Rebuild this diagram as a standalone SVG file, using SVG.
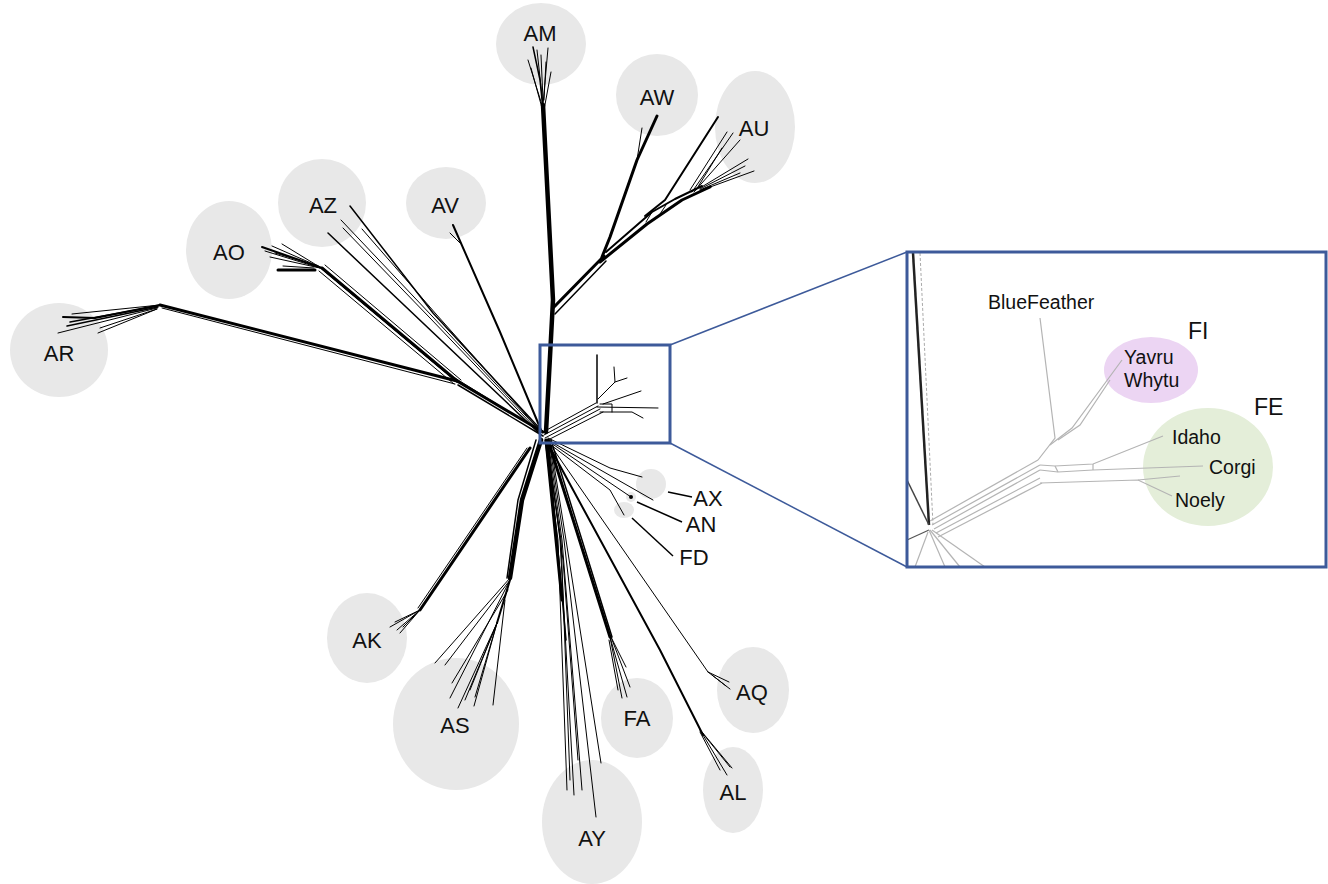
<svg xmlns="http://www.w3.org/2000/svg" width="1328" height="884" viewBox="0 0 1328 884">
<style>
  .grp { fill: #e8e8e8; }
  .lbl { font-family: "Liberation Sans", Arial, sans-serif; font-size: 22px; fill: #111; text-anchor: middle; }
  .ilbl { font-family: "Liberation Sans", Arial, sans-serif; font-size: 19.5px; fill: #111; }
  .glbl { font-family: "Liberation Sans", Arial, sans-serif; font-size: 23px; fill: #111; }
  .br { fill: none; stroke: #000; stroke-linejoin: round; stroke-linecap: round; }
  .w1 { stroke-width: 1; }
  .w15 { stroke-width: 1.5; }
  .w2 { stroke-width: 2; }
  .w3 { stroke-width: 3; }
  .w4 { stroke-width: 4.5; }
  .lt { fill: none; stroke: #b4b4b4; stroke-width: 1.2; }
  .frame { fill: none; stroke: #3d5a9a; stroke-width: 3; }
  .lead { stroke: #3d5a9a; stroke-width: 1.5; }
  .tick { stroke: #000; stroke-width: 1.5; }
</style>

<rect width="1328" height="884" fill="#fff"/>

<!-- group shading -->
<g id="clusters">
  <ellipse id="AM-bg" class="grp" cx="541" cy="44" rx="45" ry="41"/>
  <ellipse id="AW-bg" class="grp" cx="657" cy="95" rx="41" ry="41"/>
  <ellipse id="AU-bg" class="grp" cx="755" cy="127" rx="40" ry="56"/>
  <ellipse id="AZ-bg" class="grp" cx="322" cy="203" rx="44" ry="44"/>
  <ellipse id="AV-bg" class="grp" cx="446" cy="203" rx="40" ry="36"/>
  <ellipse id="AO-bg" class="grp" cx="229" cy="250" rx="43" ry="49"/>
  <ellipse id="AR-bg" class="grp" cx="59" cy="350" rx="49" ry="47"/>
  <ellipse id="AK-bg" class="grp" cx="367" cy="638" rx="40" ry="45"/>
  <ellipse id="AS-bg" class="grp" cx="456" cy="724" rx="63" ry="66"/>
  <ellipse id="AY-bg" class="grp" cx="592" cy="822" rx="50" ry="62"/>
  <ellipse id="FA-bg" class="grp" cx="637" cy="718" rx="36" ry="40"/>
  <ellipse id="AQ-bg" class="grp" cx="753" cy="690" rx="36" ry="43"/>
  <ellipse id="AL-bg" class="grp" cx="733" cy="790" rx="30" ry="43"/>
  <ellipse id="AX-bg" class="grp" cx="651" cy="484" rx="15" ry="15"/>
  <ellipse id="AN-bg" class="grp" cx="631" cy="497" rx="5" ry="5"/>
  <ellipse id="FD-bg" class="grp" cx="624" cy="510" rx="10" ry="8"/>
</g>

<!-- network edges -->
<g id="connectors">
  <!-- AM -->
  <polyline class="br w4" points="546,432 553,300 543,105"/>
  <polyline class="br w15" points="543,110 540,80 533,47"/>
  <polyline class="br w1" points="543,105 537,50"/>
  <polyline class="br w1" points="543,105 548,48"/>
  <polyline class="br w1" points="544,110 551,72"/>
  <polyline class="br w1" points="542,105 528,60"/>
  <polyline class="br w1" points="542,108 531,68"/>
  <polyline class="br w1" points="543,100 541,55"/>
  <polyline class="br w1" points="544,100 546,62"/>

  <!-- AW / AU -->
  <polyline class="br w3" points="553,308 604,256"/>
  <polyline class="br w15" points="555,314 606,261"/>
  <polyline class="br w3" points="602,257 610,237 637,160 657,116"/>
  <polyline class="br w1" points="637,160 642,128"/>
  <polyline class="br w3" points="600,262 647,224 682,200 710,187"/>
  <polyline class="br w2" points="606,252 652,212 675,199 702,186"/>
  <polyline class="br w2" points="645,216 665,200 718,117"/>
  <polyline class="br w1" points="652,212 646,222"/>
  <polyline class="br w1" points="666,205 660,214"/>
  <polyline class="br w1" points="690,190 727,132"/>
  <polyline class="br w1" points="692,192 733,133"/>
  <polyline class="br w1" points="694,192 740,140"/>
  <polyline class="br w1" points="696,190 722,148"/>
  <polyline class="br w1" points="700,188 748,159"/>
  <polyline class="br w1" points="702,190 754,171"/>
  <polyline class="br w1" points="700,190 740,173"/>
  <polyline class="br w1" points="700,189 745,166"/>

  <!-- AZ -->
  <polyline class="br w15" points="543,432 433,313 350,206"/>
  <polyline class="br w1" points="541,432 432,316 341,220"/>
  <polyline class="br w1" points="541,434 430,318 343,228"/>
  <polyline class="br w1" points="542,433 436,314 362,229"/>
  <polyline class="br w15" points="540,434 328,233"/>

  <!-- AV -->
  <polyline class="br w2" points="541,430 500,332 453,225"/>
  <polyline class="br w1" points="460,243 450,233"/>

  <!-- AO / AR shared stem -->
  <polyline class="br w3" points="543,432 457,381"/>
  <polyline class="br w15" points="543,436 458,385"/>
  <polyline class="br w1" points="540,431 455,378"/>

  <!-- AR -->
  <polyline class="br w3" points="457,381 160,305"/>
  <polyline class="br w1" points="455,384 162,308"/>
  <polyline class="br w2" points="160,305 95,318 63,317"/>
  <polyline class="br w15" points="158,306 70,322"/>
  <polyline class="br w15" points="158,307 67,326"/>
  <polyline class="br w1" points="157,308 58,333"/>
  <polyline class="br w1" points="157,309 98,333"/>
  <polyline class="br w1" points="157,309 100,328"/>
  <polyline class="br w1" points="160,305 72,314"/>

  <!-- AO -->
  <polyline class="br w3" points="457,381 322,268"/>
  <polyline class="br w1" points="461,380 325,265"/>
  <polyline class="br w1" points="454,384 319,271"/>
  <polyline class="br w1" points="452,378 317,265"/>
  <polyline class="br w2" points="322,268 285,255 262,247"/>
  <polyline class="br w1" points="320,268 265,251"/>
  <polyline class="br w1" points="320,267 272,246"/>
  <polyline class="br w1" points="320,268 270,257"/>
  <polyline class="br w1" points="318,266 275,253"/>
  <polyline class="br w1" points="318,266 282,244"/>
  <polyline class="br w3" points="278,270 315,270"/>
  <polyline class="br w1" points="283,266 314,268"/>

  <!-- AK -->
  <polyline class="br w3" points="530,448 420,610"/>
  <polyline class="br w1" points="527,448 418,608"/>
  <polyline class="br w1" points="420,610 390,627"/>
  <polyline class="br w1" points="420,610 400,633"/>
  <polyline class="br w1" points="420,610 397,630"/>
  <polyline class="br w1" points="420,610 395,622"/>
  <polyline class="br w1" points="420,610 403,627"/>

  <!-- AS -->
  <polyline class="br w4" points="541,440 522,500 510,578"/>
  <polyline class="br w15" points="536,440 518,500 507,578"/>
  <polyline class="br w1" points="510,578 435,663"/>
  <polyline class="br w1" points="510,580 445,665"/>
  <polyline class="br w1" points="509,582 450,698"/>
  <polyline class="br w1" points="508,590 452,683"/>
  <polyline class="br w2" points="510,580 497,623"/>
  <polyline class="br w1" points="497,623 458,708"/>
  <polyline class="br w1" points="497,623 474,706"/>
  <polyline class="br w1" points="497,623 465,700"/>
  <polyline class="br w1" points="497,623 470,690"/>
  <polyline class="br w1" points="497,623 475,697"/>
  <polyline class="br w1" points="505,600 493,705"/>

  <!-- AY -->
  <polyline class="br w3" points="546,440 562,600"/>
  <polyline class="br w15" points="548,440 566,640"/>
  <polyline class="br w1" points="545,440 558,540 567,790"/>
  <polyline class="br w1" points="547,440 560,540 574,795"/>
  <polyline class="br w1" points="548,440 562,540 582,790"/>
  <polyline class="br w1" points="549,440 564,540 596,817"/>
  <polyline class="br w1" points="550,440 566,540 601,763"/>
  <polyline class="br w1" points="546,440 561,540 570,780"/>
  <polyline class="br w1" points="547,440 563,560 578,760"/>

  <!-- FA -->
  <polyline class="br w3" points="548,440 610,637"/>
  <polyline class="br w15" points="551,440 612,637"/>
  <polyline class="br w1" points="610,637 622,698"/>
  <polyline class="br w1" points="611,637 630,687"/>
  <polyline class="br w1" points="611,637 626,667"/>
  <polyline class="br w1" points="610,637 627,697"/>
  <polyline class="br w1" points="609,640 618,690"/>

  <!-- AL -->
  <polyline class="br w2" points="546,440 660,650 703,735"/>
  <polyline class="br w1" points="700,730 730,767"/>
  <polyline class="br w1" points="700,730 727,775"/>
  <polyline class="br w1" points="702,732 732,768"/>
  <polyline class="br w1" points="700,732 720,770"/>

  <!-- AQ -->
  <polyline class="br w1" points="547,440 708,672"/>
  <polyline class="br w1" points="708,672 729,682"/>
  <polyline class="br w1" points="708,672 730,689"/>
  <polyline class="br w1" points="712,675 726,686"/>

  <!-- AX / AN / FD -->
  <polyline class="br w1" points="548,438 610,468 642,477"/>
  <polyline class="br w1" points="548,440 653,500"/>
  <polyline class="br w1" points="548,441 631,497"/>
  <circle cx="631" cy="497" r="2" fill="#000"/>
  <polyline class="br w1" points="547,442 610,490 624,515"/>

  <!-- FI / FE / BlueFeather sub-network -->
  <polyline class="br w1" points="543,432 596,403"/>
  <polyline class="br w1" points="544,435 598,406"/>
  <polyline class="br w1" points="545,438 600,409"/>
  <polyline class="br w1" points="546,441 603,412"/>
  <polyline class="br w15" points="597,403 597,355"/>
  <polyline class="br w1" points="598,399 615,382 614,367"/>
  <polyline class="br w1" points="615,382 627,378"/>
  <polyline class="br w1" points="603,404 641,391"/>
  <polyline class="br w1" points="597,407 658,408"/>
  <polyline class="br w1" points="600,412 632,412 643,418"/>
  <polyline class="br w1" points="600,404 612,404 612,412"/>
</g>

<!-- zoom frame and callout -->
<g id="zoom-frame">
  <rect class="frame" x="540" y="345" width="130" height="98"/>
  <line class="lead" x1="670" y1="345" x2="907" y2="252"/>
  <line class="lead" x1="670" y1="443" x2="907" y2="567"/>
</g>

<g id="inset">
  <rect x="907" y="252" width="419" height="315" fill="#fff"/>
  <ellipse id="FI-bg" cx="1151" cy="370" rx="47" ry="33" fill="#ecd5f3"/>
  <ellipse id="FE-bg" cx="1208" cy="467" rx="65" ry="59" fill="#e4eed9"/>
  <!-- faint edges -->
  <polyline points="913,253 929,525" fill="none" stroke="#222" stroke-width="2.5"/>
  <polyline points="920,253 933,525" fill="none" stroke="#aaa" stroke-width="1" stroke-dasharray="3 2"/>
  <polyline class="lt" points="930,521 1038,460"/>
  <polyline class="lt" points="932,525 1040,465"/>
  <polyline class="lt" points="934,529 1040,470"/>
  <polyline class="lt" points="936,533 1040,478"/>
  <polyline class="lt" points="938,537 1042,483"/>
  <polyline class="lt" points="1038,460 1055,438 1040,318"/>
  <polyline class="lt" points="1050,445 1072,428 1122,360"/>
  <polyline class="lt" points="1058,440 1080,425 1110,380"/>
  <polyline class="lt" points="1040,465 1055,466 1093,464 1163,436"/>
  <polyline class="lt" points="1040,470 1058,472 1093,470 1203,466"/>
  <polyline class="lt" points="1055,466 1058,472"/>
  <polyline class="lt" points="1093,464 1093,470"/>
  <polyline class="lt" points="1040,483 1138,480 1172,496"/>
  <polyline class="lt" points="1138,480 1180,476"/>
  <polyline points="907,480 929,525" fill="none" stroke="#444" stroke-width="1.5"/>
  <polyline points="907,540 929,530" fill="none" stroke="#555" stroke-width="1.2"/>
  <polyline class="lt" points="929,530 945,567"/>
  <polyline class="lt" points="930,530 960,567"/>
  <polyline class="lt" points="932,530 985,567"/>
  <polyline class="lt" points="928,532 915,567"/>
  <rect class="frame" x="907" y="252" width="419" height="315"/>
</g>

<!-- labels -->
<g id="AM"><text class="lbl" x="540" y="41">AM</text></g>
<g id="AW"><text class="lbl" x="657" y="105">AW</text></g>
<g id="AU"><text class="lbl" x="754" y="136">AU</text></g>
<g id="AZ"><text class="lbl" x="323" y="213">AZ</text></g>
<g id="AV"><text class="lbl" x="445" y="213">AV</text></g>
<g id="AO"><text class="lbl" x="229" y="260">AO</text></g>
<g id="AR"><text class="lbl" x="59" y="361">AR</text></g>
<g id="AK"><text class="lbl" x="367" y="648">AK</text></g>
<g id="AS"><text class="lbl" x="455" y="733">AS</text></g>
<g id="AY"><text class="lbl" x="592" y="846">AY</text></g>
<g id="FA"><text class="lbl" x="637" y="726">FA</text></g>
<g id="AQ"><text class="lbl" x="752" y="700">AQ</text></g>
<g id="AL"><text class="lbl" x="733" y="800">AL</text></g>
<g id="AX">
  <line class="tick" x1="668" y1="492" x2="692" y2="497"/>
  <text class="lbl" x="708" y="506">AX</text>
</g>
<g id="AN">
  <line class="tick" x1="637" y1="502" x2="682" y2="522"/>
  <text class="lbl" x="701" y="532">AN</text>
</g>
<g id="FD">
  <line class="tick" x1="632" y1="518" x2="673" y2="556"/>
  <text class="lbl" x="694" y="565">FD</text>
</g>
<g id="BlueFeather"><text class="ilbl" x="988" y="309">BlueFeather</text></g>
<g id="FI">
  <text class="glbl" x="1188" y="339">FI</text>
  <text class="ilbl" x="1124" y="364">Yavru</text>
  <text class="ilbl" x="1124" y="387">Whytu</text>
</g>
<g id="FE">
  <text class="glbl" x="1254" y="415">FE</text>
  <text class="ilbl" x="1172" y="444">Idaho</text>
  <text class="ilbl" x="1209" y="474">Corgi</text>
  <text class="ilbl" x="1175" y="507">Noely</text>
</g>
</svg>
